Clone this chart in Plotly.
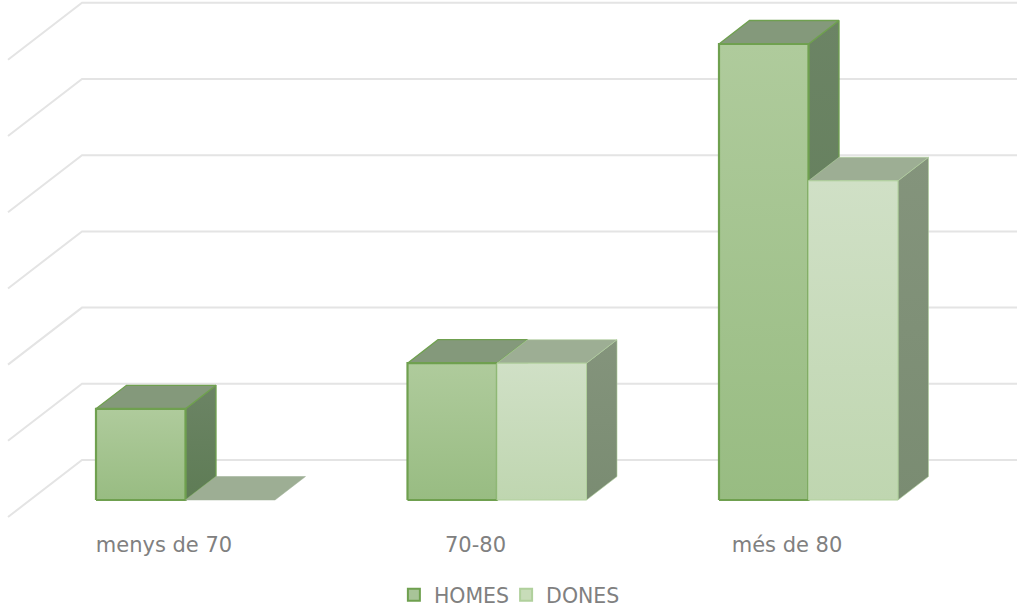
import plotly.graph_objects as go

CATEGORIES = ["menys de 70", "70-80", "més de 80"]
HOMES = [2, 3, 10]
DONES = [0, 3, 7]
GRID_LEVELS = [0.877, 2.548, 4.219, 5.890, 7.561, 9.232, 10.903]

# scale of the drawing
PX_X = 311.5
PX_Y = 45.6
X0_PX = 185.5
Y0_PX = 500
W, H, AXIS_Y_PX = 1020, 608, 530
BAR_W = 89.5 / PX_X
DEPTH_X = 30.5 / PX_X
DEPTH_Y = 23.5 / PX_Y
WALL_X = 74 / PX_X
WALL_Y = 57 / PX_Y
BACK_LEFT = (82 - X0_PX) / PX_X
BACK_RIGHT = (1017 - X0_PX) / PX_X
LABEL_SHIFT = -21.5 / PX_X

STYLE = {
    "HOMES": dict(front=["#98BC82", "#AFCB9C"], top=["#84997B", "#84997B"],
                  side=["#5E7C55", "#6C8465"], line="#6FA04F", lw=2.2,
                  swatch="#A8C498"),
    "DONES": dict(front=["#BFD6B0", "#D0E0C6"], top=["#9DAE94", "#9DAE94"],
                  side=["#7A8C72", "#84947C"], line="#B0D09C", lw=1.0,
                  swatch="#C8DCB9"),
}

fig = go.Figure()

# back wall and side wall gridlines
gx, gy = [], []
for lv in GRID_LEVELS:
    gx += [BACK_RIGHT, BACK_LEFT, BACK_LEFT - WALL_X, None]
    gy += [lv, lv, lv - WALL_Y, None]
fig.add_trace(go.Scatter(x=gx, y=gy, mode="lines", showlegend=False, hoverinfo="skip",
                         line=dict(color="#E4E4E4", width=2)))


def face(xs, ys, colors, line, lw, name):
    fig.add_trace(go.Scatter(
        x=xs + xs[:1], y=ys + ys[:1], mode="lines", fill="toself", name=name,
        showlegend=False, hoverinfo="skip",
        line=dict(color=line, width=lw),
        fillgradient=dict(type="vertical",
                          colorscale=[[0, colors[0]], [1, colors[1]]]),
    ))


def bar(i, offset, value, name):
    s = STYLE[name]
    left = i + offset
    right = left + BAR_W
    if value > 0:
        face([right, right + DEPTH_X, right + DEPTH_X, right],
             [0, DEPTH_Y, value + DEPTH_Y, value],
             s["side"], s["line"], s["lw"] * 0.6, name)
        face([left, right, right + DEPTH_X, left + DEPTH_X],
             [value, value, value + DEPTH_Y, value + DEPTH_Y],
             s["top"], s["line"], s["lw"] * 0.6, name)
        face([left, right, right, left], [0, 0, value, value],
             s["front"], s["line"], s["lw"], name)
    else:
        face([left, right, right + DEPTH_X, left + DEPTH_X],
             [value, value, value + DEPTH_Y, value + DEPTH_Y],
             s["top"], s["top"][0], 0.5, name)


for i in range(len(CATEGORIES)):
    bar(i, -BAR_W, HOMES[i], "HOMES")
    bar(i, 0, DONES[i], "DONES")

# legend entries
for name in ["HOMES", "DONES"]:
    s = STYLE[name]
    fig.add_trace(go.Scatter(
        x=[None], y=[None], mode="markers", name=name,
        marker=dict(symbol="square", size=12, color=s["swatch"],
                    line=dict(color=s["line"], width=2)),
    ))

fig.update_layout(
    width=W, height=H, autosize=False,
    margin=dict(l=0, r=0, t=0, b=0, autoexpand=False),
    paper_bgcolor="white", plot_bgcolor="white",
    font=dict(family="DejaVu Sans", size=21, color="#808080"),
    xaxis=dict(range=[-X0_PX / PX_X, (W - X0_PX) / PX_X],
               tickmode="array",
               tickvals=[i + LABEL_SHIFT for i in range(len(CATEGORIES))],
               ticktext=CATEGORIES, showgrid=False, zeroline=False,
               showline=False, ticks="", fixedrange=True,
               anchor="free", position=(H - AXIS_Y_PX) / H,
               tickfont=dict(size=21, color="#808080")),
    yaxis=dict(range=[(Y0_PX - H) / PX_Y, Y0_PX / PX_Y], visible=False,
               fixedrange=True),
    legend=dict(orientation="h", x=0.394, y=(H - 595) / H, xanchor="left",
                yanchor="middle", indentation=-8,
                font=dict(size=20.5, color="#808080"), itemclick=False,
                itemdoubleclick=False, tracegroupgap=0,
                bgcolor="rgba(0,0,0,0)"),
    showlegend=True,
)

fig.write_html("out.html", config={"displayModeBar": False},
               post_script="document.body.style.margin='0';")
